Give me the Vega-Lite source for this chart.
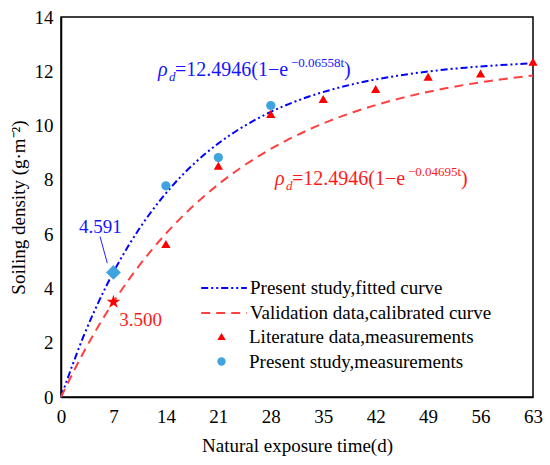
{
  "$schema": "https://vega.github.io/schema/vega-lite/v6.json",
  "width": 472,
  "height": 380,
  "autosize": "none",
  "padding": {"left": 61, "top": 17, "right": 17, "bottom": 68},
  "background": "white",
  "config": {
    "font": "Liberation Serif",
    "view": {"stroke": "black", "strokeWidth": 1.5},
    "axis": {
      "domainColor": "black", "domainWidth": 1.5,
      "ticks": false,
      "labelFont": "Liberation Serif", "labelFontSize": 19, "labelColor": "black",
      "titleFont": "Liberation Serif", "titleFontSize": 19, "titleColor": "black", "titleFontWeight": "normal",
      "grid": false, "labelFlush": false, "labelOverlap": false
    },
    "legend": {
      "labelFont": "Liberation Serif", "labelFontSize": 19, "labelColor": "black", "labelLimit": 500,
      "padding": 0, "titlePadding": 0
    }
  },
  "datasets": {
    "curves": [
      {"t": 0, "rho": 0, "curve": "Present study,fitted curve"},
      {"t": 3, "rho": 2.232, "curve": "Present study,fitted curve"},
      {"t": 6, "rho": 4.065, "curve": "Present study,fitted curve"},
      {"t": 9, "rho": 5.570, "curve": "Present study,fitted curve"},
      {"t": 12, "rho": 6.807, "curve": "Present study,fitted curve"},
      {"t": 15, "rho": 7.823, "curve": "Present study,fitted curve"},
      {"t": 18, "rho": 8.657, "curve": "Present study,fitted curve"},
      {"t": 21, "rho": 9.343, "curve": "Present study,fitted curve"},
      {"t": 24, "rho": 9.906, "curve": "Present study,fitted curve"},
      {"t": 27, "rho": 10.368, "curve": "Present study,fitted curve"},
      {"t": 30, "rho": 10.748, "curve": "Present study,fitted curve"},
      {"t": 33, "rho": 11.060, "curve": "Present study,fitted curve"},
      {"t": 36, "rho": 11.316, "curve": "Present study,fitted curve"},
      {"t": 39, "rho": 11.527, "curve": "Present study,fitted curve"},
      {"t": 42, "rho": 11.700, "curve": "Present study,fitted curve"},
      {"t": 45, "rho": 11.841, "curve": "Present study,fitted curve"},
      {"t": 48, "rho": 11.958, "curve": "Present study,fitted curve"},
      {"t": 51, "rho": 12.054, "curve": "Present study,fitted curve"},
      {"t": 54, "rho": 12.133, "curve": "Present study,fitted curve"},
      {"t": 57, "rho": 12.197, "curve": "Present study,fitted curve"},
      {"t": 60, "rho": 12.250, "curve": "Present study,fitted curve"},
      {"t": 63, "rho": 12.294, "curve": "Present study,fitted curve"},
      {"t": 0, "rho": 0, "curve": "Validation data,calibrated curve"},
      {"t": 3, "rho": 1.642, "curve": "Validation data,calibrated curve"},
      {"t": 6, "rho": 3.067, "curve": "Validation data,calibrated curve"},
      {"t": 9, "rho": 4.306, "curve": "Validation data,calibrated curve"},
      {"t": 12, "rho": 5.382, "curve": "Validation data,calibrated curve"},
      {"t": 15, "rho": 6.316, "curve": "Validation data,calibrated curve"},
      {"t": 18, "rho": 7.128, "curve": "Validation data,calibrated curve"},
      {"t": 21, "rho": 7.833, "curve": "Validation data,calibrated curve"},
      {"t": 24, "rho": 8.446, "curve": "Validation data,calibrated curve"},
      {"t": 27, "rho": 8.978, "curve": "Validation data,calibrated curve"},
      {"t": 30, "rho": 9.440, "curve": "Validation data,calibrated curve"},
      {"t": 33, "rho": 9.841, "curve": "Validation data,calibrated curve"},
      {"t": 36, "rho": 10.190, "curve": "Validation data,calibrated curve"},
      {"t": 39, "rho": 10.492, "curve": "Validation data,calibrated curve"},
      {"t": 42, "rho": 10.755, "curve": "Validation data,calibrated curve"},
      {"t": 45, "rho": 10.984, "curve": "Validation data,calibrated curve"},
      {"t": 48, "rho": 11.182, "curve": "Validation data,calibrated curve"},
      {"t": 51, "rho": 11.355, "curve": "Validation data,calibrated curve"},
      {"t": 54, "rho": 11.505, "curve": "Validation data,calibrated curve"},
      {"t": 57, "rho": 11.635, "curve": "Validation data,calibrated curve"},
      {"t": 60, "rho": 11.748, "curve": "Validation data,calibrated curve"},
      {"t": 63, "rho": 11.846, "curve": "Validation data,calibrated curve"}
    ],
    "measurements": [
      {"t": 14, "rho": 5.64, "meas": "Literature data,measurements"},
      {"t": 21, "rho": 8.52, "meas": "Literature data,measurements"},
      {"t": 28, "rho": 10.43, "meas": "Literature data,measurements"},
      {"t": 35, "rho": 10.98, "meas": "Literature data,measurements"},
      {"t": 42, "rho": 11.35, "meas": "Literature data,measurements"},
      {"t": 49, "rho": 11.80, "meas": "Literature data,measurements"},
      {"t": 56, "rho": 11.92, "meas": "Literature data,measurements"},
      {"t": 63, "rho": 12.35, "meas": "Literature data,measurements"},
      {"t": 14, "rho": 7.78, "meas": "Present study,measurements"},
      {"t": 21, "rho": 8.82, "meas": "Present study,measurements"},
      {"t": 28, "rho": 10.74, "meas": "Present study,measurements"}
    ],
    "special": [
      {"t": 7, "rho": 4.591, "kind": "diamond"},
      {"t": 7, "rho": 3.5, "kind": "star"}
    ],
    "leader": [
      {"t": 5.21, "rho": 5.91, "t2": 6.18, "rho2": 4.93}
    ],
    "notes": [
      {"t": 2.40, "rho": 6.04, "label": "4.591", "curve": "fit"},
      {"t": 7.78, "rho": 2.63, "label": "3.500", "curve": "cal"}
    ],
    "eqs": [
      {"t": 12.95, "rho": 11.83, "sup": "−0.06558t", "curve": "fit"},
      {"t": 28.56, "rho": 7.81, "sup": "−0.04695t", "curve": "cal"}
    ],
    "xticks": [{"t": 7}, {"t": 14}, {"t": 21}, {"t": 28}, {"t": 35}, {"t": 42}, {"t": 49}, {"t": 56}],
    "yticks": [{"rho": 2}, {"rho": 4}, {"rho": 6}, {"rho": 8}, {"rho": 10}, {"rho": 12}]
  },
  "encoding": {
    "x": {
      "field": "t", "type": "quantitative",
      "scale": {"domain": [0, 63], "nice": false, "zero": false},
      "axis": {"title": "Natural exposure time(d)", "values": [0, 7, 14, 21, 28, 35, 42, 49, 56, 63], "labelPadding": 10, "titlePadding": 10}
    },
    "y": {
      "field": "rho", "type": "quantitative",
      "scale": {"domain": [0, 14], "nice": false},
      "axis": {"title": "Soiling density (g·m⁻²)", "values": [0, 2, 4, 6, 8, 10, 12, 14], "labelPadding": 8, "titlePadding": 6}
    }
  },
  "layer": [
    {
      "data": {"name": "xticks"},
      "mark": {"type": "rule", "color": "black", "strokeWidth": 1.5},
      "encoding": {"y": {"datum": 0}, "y2": {"datum": 0.22}}
    },
    {
      "data": {"name": "yticks"},
      "mark": {"type": "rule", "color": "black", "strokeWidth": 1.5},
      "encoding": {"x": {"datum": 0}, "x2": {"datum": 0.8}}
    },
    {
      "data": {"name": "curves"},
      "mark": {"type": "line", "strokeWidth": 2, "interpolate": "monotone"},
      "encoding": {
        "stroke": {
          "field": "curve", "type": "nominal",
          "scale": {"domain": ["Present study,fitted curve", "Validation data,calibrated curve"], "range": ["#0000FF", "#FF4040"]},
          "legend": {"title": null, "orient": "none", "legendX": 150, "legendY": 258, "symbolType": "M-1.9,0L1.9,0", "symbolSize": 576, "symbolStrokeWidth": 2, "labelOffset": 13, "rowPadding": 2}
        },
        "strokeDash": {
          "field": "curve", "type": "nominal",
          "scale": {"domain": ["Present study,fitted curve", "Validation data,calibrated curve"], "range": [[7, 3, 2, 3, 2, 3], [9, 6]]}
        }
      }
    },
    {
      "data": {"name": "measurements"},
      "mark": {"type": "point", "filled": true, "size": 85, "opacity": 1},
      "encoding": {
        "fill": {
          "field": "meas", "type": "nominal",
          "scale": {"domain": ["Literature data,measurements", "Present study,measurements"], "range": ["#FF0000", "#3FA3E0"]},
          "legend": {"title": null, "orient": "none", "legendX": 151, "legendY": 310, "symbolSize": 70, "symbolStrokeWidth": 0, "labelOffset": 18, "rowPadding": 5}
        },
        "shape": {
          "field": "meas", "type": "nominal",
          "scale": {"domain": ["Literature data,measurements", "Present study,measurements"], "range": ["triangle-up", "circle"]}
        }
      }
    },
    {
      "data": {"name": "special"},
      "transform": [{"filter": "datum.kind === 'diamond'"}],
      "mark": {"type": "point", "filled": true, "shape": "diamond", "size": 220, "color": "#3FA3E0", "opacity": 1}
    },
    {
      "data": {"name": "special"},
      "transform": [{"filter": "datum.kind === 'star'"}],
      "mark": {"type": "point", "filled": true, "shape": "M0,-1L0.2245,-0.309L0.951,-0.309L0.363,0.118L0.588,0.809L0,0.382L-0.588,0.809L-0.363,0.118L-0.951,-0.309L-0.2245,-0.309Z", "size": 210, "color": "#FF0000", "opacity": 1}
    },
    {
      "data": {"name": "leader"},
      "mark": {"type": "rule", "color": "#2020FF", "strokeWidth": 1},
      "encoding": {
        "x2": {"field": "t2"},
        "y2": {"field": "rho2"}
      }
    },
    {
      "data": {"name": "notes"},
      "mark": {"type": "text", "align": "left", "baseline": "alphabetic", "fontSize": 19},
      "encoding": {
        "text": {"field": "label"},
        "color": {"field": "curve", "type": "nominal", "scale": {"domain": ["fit", "cal"], "range": ["#1515FF", "#FF1A1A"]}, "legend": null}
      }
    },
    {
      "data": {"name": "eqs"},
      "mark": {"type": "text", "align": "left", "baseline": "alphabetic", "fontSize": 20, "fontStyle": "italic", "text": "ρ"},
      "encoding": {
        "color": {"field": "curve", "type": "nominal", "scale": {"domain": ["fit", "cal"], "range": ["#1515FF", "#FF1A1A"]}, "legend": null}
      }
    },
    {
      "data": {"name": "eqs"},
      "mark": {"type": "text", "align": "left", "baseline": "alphabetic", "fontSize": 13, "fontStyle": "italic", "text": "d", "dx": 11, "dy": 5},
      "encoding": {
        "color": {"field": "curve", "type": "nominal", "scale": {"domain": ["fit", "cal"], "range": ["#1515FF", "#FF1A1A"]}, "legend": null}
      }
    },
    {
      "data": {"name": "eqs"},
      "mark": {"type": "text", "align": "left", "baseline": "alphabetic", "fontSize": 20, "text": "=12.4946(1−e", "dx": 17},
      "encoding": {
        "color": {"field": "curve", "type": "nominal", "scale": {"domain": ["fit", "cal"], "range": ["#1515FF", "#FF1A1A"]}, "legend": null}
      }
    },
    {
      "data": {"name": "eqs"},
      "mark": {"type": "text", "align": "left", "baseline": "alphabetic", "fontSize": 13, "dx": 133, "dy": -9},
      "encoding": {
        "text": {"field": "sup"},
        "color": {"field": "curve", "type": "nominal", "scale": {"domain": ["fit", "cal"], "range": ["#1515FF", "#FF1A1A"]}, "legend": null}
      }
    },
    {
      "data": {"name": "eqs"},
      "mark": {"type": "text", "align": "left", "baseline": "alphabetic", "fontSize": 20, "text": ")", "dx": 186},
      "encoding": {
        "color": {"field": "curve", "type": "nominal", "scale": {"domain": ["fit", "cal"], "range": ["#1515FF", "#FF1A1A"]}, "legend": null}
      }
    }
  ]
}
